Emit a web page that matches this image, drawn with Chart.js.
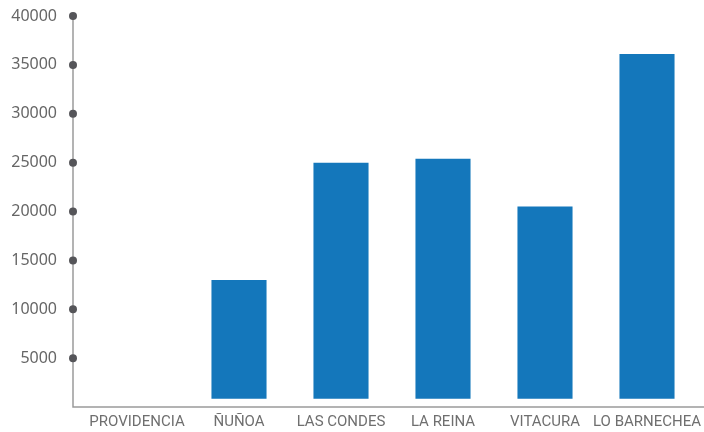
<!DOCTYPE html>
<html>
<head>
<meta charset="utf-8">
<script src="https://cdn.jsdelivr.net/npm/chart.js@4.4.1/dist/chart.umd.min.js"></script>
<style>
  html, body { margin: 0; padding: 0; background: #fff; }
</style>
</head>
<body>
<canvas id="grafico" width="704" height="432"></canvas>
<script>
// comunas
const comunas = ["PROVIDENCIA", "ÑUÑOA", "LAS CONDES", "LA REINA", "VITACURA", "LO BARNECHEA"];
// valores (providencia sin barra)
const valores = [null, 13000, 25000, 25400, 20500, 36100];
// ticks del eje y
const ticksY = [5000, 10000, 15000, 20000, 25000, 30000, 35000, 40000];
// las barras no parten del eje, sino un poco mas arriba
const baseBarras = 850;

// eje y con puntos, dibujado a mano
const ejes = {
    id: "ejes",
    afterDraw(chart) {
        const ctx = chart.ctx;
        const area = chart.chartArea;
        const y = chart.scales.y;
        const x0 = area.left - 13;
        ctx.save();
        ctx.strokeStyle = "#9a9a9a";
        ctx.lineWidth = 1.5;
        ctx.beginPath();
        ctx.moveTo(x0, y.getPixelForValue(40000));
        ctx.lineTo(x0, area.bottom);
        ctx.lineTo(chart.width, area.bottom);
        ctx.stroke();
        ctx.fillStyle = "#555559";
        ticksY.forEach(v => {
            ctx.beginPath();
            ctx.arc(x0, y.getPixelForValue(v), 4, 0, Math.PI * 2);
            ctx.fill();
        });
        ctx.restore();
    }
};

new Chart(document.getElementById("grafico"), {
    type: "bar",
    data: {
        labels: comunas,
        datasets: [{
            data: valores,
            base: baseBarras,
            backgroundColor: "#1477bb",
            categoryPercentage: 1,
            barPercentage: 0.54
        }]
    },
    options: {
        responsive: false,
        animation: false,
        layout: { padding: { top: 16, right: 6, bottom: 0, left: 0 } },
        plugins: { legend: { display: false }, tooltip: { enabled: false } },
        scales: {
            x: {
                grid: { display: false, drawTicks: false },
                border: { display: false },
                ticks: {
                    padding: 6,
                    color: "#6f6f6f",
                    font: { family: "Roboto", size: 15 },
                    maxRotation: 0,
                    autoSkip: false
                },
                afterFit(s) {
                    s.height = 25;
                    s.paddingLeft = 0;
                    s.paddingRight = 0;
                }
            },
            y: {
                min: 0,
                max: 40000,
                grid: { display: false, drawTicks: false },
                border: { display: false },
                afterBuildTicks(s) { s.ticks = ticksY.map(v => ({ value: v })); },
                ticks: {
                    padding: 29,
                    color: "#666",
                    font: { family: "Noto Sans", size: 16 },
                    callback: v => String(v)
                },
                afterFit(s) {
                    s.width = 86;
                    s.paddingTop = 0;
                    s.paddingBottom = 0;
                }
            }
        }
    },
    plugins: [ejes]
});
</script>
</body>
</html>
